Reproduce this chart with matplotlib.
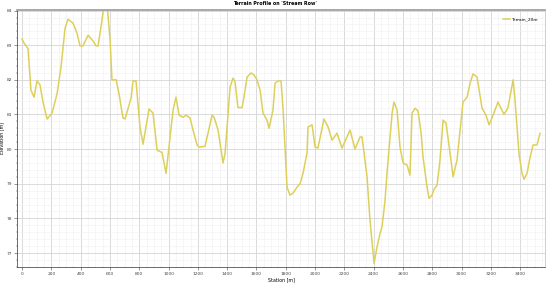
import matplotlib
matplotlib.use("Agg")
import matplotlib.pyplot as plt
from matplotlib.ticker import MultipleLocator

# station [m] and terrain elevation [m]
station = [0, 14, 41, 61, 82, 102, 123, 143, 171, 205, 239, 266, 294, 314, 348,
           375, 396, 416, 451, 485, 505, 519, 546, 560, 580, 601, 614, 642, 662,
           689, 703, 744, 758, 778, 805, 826, 867, 894, 922, 956, 983, 1031, 1051,
           1072, 1099, 1119, 1147, 1167, 1195, 1208, 1249, 1297, 1311, 1338, 1372,
           1386, 1420, 1440, 1454, 1474, 1502, 1515, 1536, 1563, 1584, 1604, 1625,
           1645, 1672, 1686, 1713, 1727, 1747, 1768, 1782, 1809, 1829, 1850, 1877,
           1898, 1918, 1945, 1952, 1980, 2000, 2020, 2061, 2089, 2116, 2150, 2184,
           2239, 2273, 2307, 2321, 2355, 2375, 2403, 2423, 2444, 2457, 2478, 2491,
           2526, 2539, 2560, 2580, 2601, 2628, 2648, 2662, 2683, 2703, 2724, 2737,
           2765, 2778, 2799, 2812, 2833, 2853, 2874, 2894, 2922, 2942, 2969, 3010,
           3038, 3058, 3078, 3106, 3140, 3167, 3188, 3208, 3249, 3290, 3317, 3352,
           3365, 3392, 3413, 3427, 3447, 3468, 3488, 3515, 3536]
elevation = [83.18, 83.06, 82.9, 81.7, 81.5, 81.97, 81.85, 81.36, 80.87, 81.04,
             81.6, 82.37, 83.5, 83.75, 83.64, 83.35, 82.98, 82.98, 83.29, 83.12,
             82.98, 82.98, 83.73, 84.2, 84.2, 83.15, 82.0, 82.0, 81.6, 80.9, 80.87,
             81.47, 81.97, 81.97, 80.64, 80.14, 81.16, 81.04, 79.97, 79.9, 79.3,
             81.13, 81.5, 80.98, 80.92, 80.98, 80.9, 80.55, 80.12, 80.06, 80.08,
             80.98, 80.92, 80.55, 79.6, 79.88, 81.79, 82.05, 81.94, 81.2, 81.2,
             81.5, 82.08, 82.2, 82.14, 82.0, 81.7, 81.04, 80.84, 80.6, 81.13, 81.9,
             81.97, 81.97, 81.13, 78.9, 78.67, 78.73, 78.9, 79.0, 79.3, 79.88,
             80.64, 80.7, 80.06, 80.03, 80.87, 80.64, 80.26, 80.46, 80.03, 80.55,
             80.0, 80.35, 80.35, 79.2, 77.95, 76.7, 77.17, 77.57, 77.75, 78.53,
             79.3, 81.04, 81.36, 81.13, 80.06, 79.6, 79.54, 79.25, 81.04, 81.18,
             81.1, 80.46, 79.77, 78.9, 78.58, 78.67, 78.84, 78.96, 79.68, 80.84,
             80.75, 79.88, 79.2, 79.68, 81.36, 81.5, 81.9, 82.17, 82.08, 81.18,
             80.98, 80.7, 80.9, 81.36, 81.0, 81.2, 82.0, 81.42, 79.88, 79.3, 79.13,
             79.3, 79.77, 80.12, 80.12, 80.46]

fig = plt.figure(figsize=(5.5, 2.83), dpi=100)
ax = fig.add_axes([0.031, 0.057, 0.96, 0.908])

ax.plot(station, elevation, color='#ddd05a', lw=1.1, label='Terrain_20m',
        solid_joinstyle='round')

ax.set_xlim(-34, 3570)
ax.set_ylim(76.6, 84.02)
ax.xaxis.set_major_locator(MultipleLocator(200))
ax.xaxis.set_minor_locator(MultipleLocator(50))
ax.yaxis.set_major_locator(MultipleLocator(1))
ax.yaxis.set_minor_locator(MultipleLocator(0.2))

ax.grid(True, which='major', color='#d4d4d4', lw=0.6)
ax.grid(True, which='minor', color='#f0f0f0', lw=0.4)
ax.set_axisbelow(True)

ax.tick_params(which='major', labelsize=3.2, length=2, width=0.4, pad=1.5, colors='#444444')
ax.tick_params(which='minor', length=1, width=0.3, colors='#444444')

for s in ['left', 'bottom']:
    ax.spines[s].set_color('#333333')
    ax.spines[s].set_linewidth(0.5)
ax.spines['top'].set_color('#9a9a9a')
ax.spines['top'].set_linewidth(1.2)
ax.spines['right'].set_color('#bbbbbb')
ax.spines['right'].set_linewidth(0.5)

ax.set_xlabel('Station [m]', fontsize=3.4, labelpad=1)
ax.set_ylabel('Elevation [m]', fontsize=3.4, labelpad=2)
fig.suptitle("Terrain Profile on 'Stream Row'", fontsize=3.4, fontweight='bold', y=0.995)

ax.legend(loc='upper right', fontsize=3.2, frameon=False, handlelength=1.5,
          handletextpad=0.4, borderaxespad=1.2)

fig.savefig('out.png', dpi=100)
